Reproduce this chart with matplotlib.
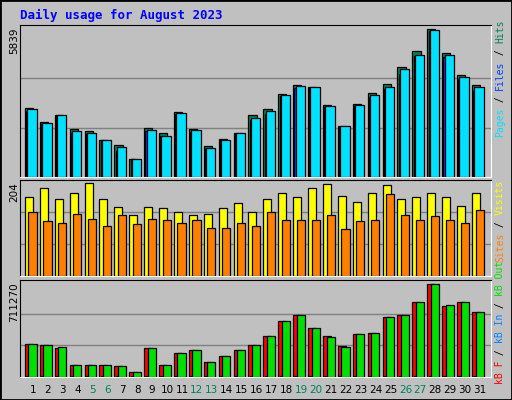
import matplotlib.pyplot as plt
import numpy as np

days = np.arange(1, 32)
weekend = [5, 6, 12, 13, 19, 20, 26, 27]

hits = [2705, 2149, 2427, 1871, 1792, 1475, 1276, 721, 1911, 1713, 2546, 1871, 1237, 1514, 1752, 2427,
        2665, 3260, 3617, 3538, 2824, 1990, 2863, 3300, 3657, 4331, 4966, 5839, 4887, 4014, 3617]
files = [2600, 2080, 2400, 1750, 1700, 1440, 1040, 700, 1800, 1600, 2480, 1780, 1100, 1440, 1680, 2250,
         2500, 3180, 3500, 3500, 2740, 1960, 2780, 3150, 3460, 4070, 4750, 5760, 4740, 3870, 3390]
pages = [2665, 2109, 2427, 1792, 1752, 1475, 1197, 721, 1832, 1633, 2507, 1832, 1157, 1475, 1713, 2308,
         2586, 3221, 3578, 3538, 2784, 1990, 2824, 3221, 3538, 4252, 4808, 5800, 4808, 3935, 3538]
visits = [168, 187, 163, 176, 198, 163, 146, 129, 146, 144, 137, 129, 131, 144, 155, 135,
          163, 176, 168, 187, 195, 170, 157, 176, 193, 163, 168, 176, 168, 148, 176]
sites = [135, 116, 112, 131, 122, 107, 129, 110, 122, 120, 112, 118, 103, 103, 112, 107,
         135, 118, 118, 118, 129, 99, 116, 120, 174, 129, 120, 127, 118, 112, 140]
kb_f = [244700, 237060, 214120, 91760, 91760, 91760, 84120, 38240, 214120, 91760, 175880, 198820,
        114700, 160590, 198820, 237060, 305880, 420590, 466470, 367060, 305880, 229410, 321170,
        328820, 451170, 466470, 558230, 695880, 527640, 558230, 489410]
kb_out = [244700, 237060, 221770, 91760, 91760, 91760, 84120, 38240, 214120, 91760, 175880, 198820,
          114700, 160590, 198820, 237060, 305880, 420590, 466470, 367060, 298230, 221770, 321170,
          328820, 451170, 466470, 558230, 695880, 535290, 558230, 489410]
kb_in = [4000] * 31

W, H = 512, 400
fig = plt.figure(figsize=(W / 100, H / 100), dpi=100, facecolor='#C0C0C0')
fig.patches.append(plt.Rectangle((0, 0), 1, 1, transform=fig.transFigure, fill=False,
                                 edgecolor='black', linewidth=2))

def mkax(top, bottom):
    ax = fig.add_axes([20 / W, 1 - bottom / H, 471 / W, (bottom - top) / H])
    ax.set_facecolor('#C0C0C0')
    ax.set_xlim(0.13, 31.74)
    ax.set_xticks([])
    ax.set_yticks([])
    for s in ['top', 'left']:
        ax.spines[s].set_color('black')
    for s in ['bottom', 'right']:
        ax.spines[s].set_color('white')
    return ax

kw = dict(align='edge', edgecolor='black', linewidth=0.9)

ax1 = mkax(25, 177)
ax1.set_ylim(0, 5839 * 1.025)
for g in [5839 / 3, 5839 * 2 / 3]:
    ax1.axhline(g, color='#808080', linewidth=1, zorder=0)
ax1.bar(days - 0.54, hits, 0.55, color='#00805C', **kw)
ax1.bar(days - 0.45, files, 0.2, color='#0040FF', **kw)
ax1.bar(days - 0.38, pages, 0.63, color='#00E0FF', **kw)

ax2 = mkax(180, 276)
ax2.set_ylim(0, 204)
for g in [68, 136]:
    ax2.axhline(g, color='#808080', linewidth=1, zorder=0)
ax2.bar(days - 0.54, visits, 0.54, color='#FFFF00', **kw)
ax2.bar(days - 0.3, sites, 0.55, color='#FF8000', **kw)

ax3 = mkax(280, 377)
ax3.set_ylim(0, 711270 * 1.02)
for g in [711270 / 3, 711270 * 2 / 3]:
    ax3.axhline(g, color='#808080', linewidth=1, zorder=0)
ax3.bar(days - 0.54, kb_f, 0.54, color='#FF0000', **kw)
ax3.bar(days - 0.45, kb_in, 0.15, color='#0080FF', **kw)
ax3.bar(days - 0.3, kb_out, 0.55, color='#00E000', **kw)

for d in days:
    ax3.text(d, -0.13, str(d), transform=ax3.get_xaxis_transform(), ha='center', va='center',
             fontsize=7.5, color='#00805C' if d in weekend else 'black')

fig.text(20 / W, 1 - 15 / H, 'Daily usage for August 2023', color='#0000FF',
         fontsize=9, fontweight='bold', family='DejaVu Sans Mono', va='center')

for lab, ytop in [('5839', 28), ('204', 182), ('711270', 282)]:
    fig.text(14 / W, 1 - ytop / H, lab, rotation=90, ha='center', va='top', fontsize=7.5)

def side(tokens, ybottom):
    y = ybottom
    for w, c in tokens:
        fig.text(500 / W, 1 - y / H, w, rotation=90, ha='center', va='bottom',
                 fontsize=7, family='DejaVu Sans Mono', color=c)
        y -= len(w) * 5.85

side([('Pages', '#00E0FF'), (' / ', 'black'), ('Files', '#0040FF'), (' / ', 'black'),
      ('Hits', '#00805C')], 137)
side([('Sites', '#FF8000'), (' / ', 'black'), ('Visits', '#FFFF00')], 262)
side([('kB F', '#FF0000'), (' / ', 'black'), ('kB In', '#0080FF'), (' / ', 'black'),
      ('kB Out', '#00E000')], 384)
fig.savefig('out.png', dpi=100, facecolor=fig.get_facecolor())
